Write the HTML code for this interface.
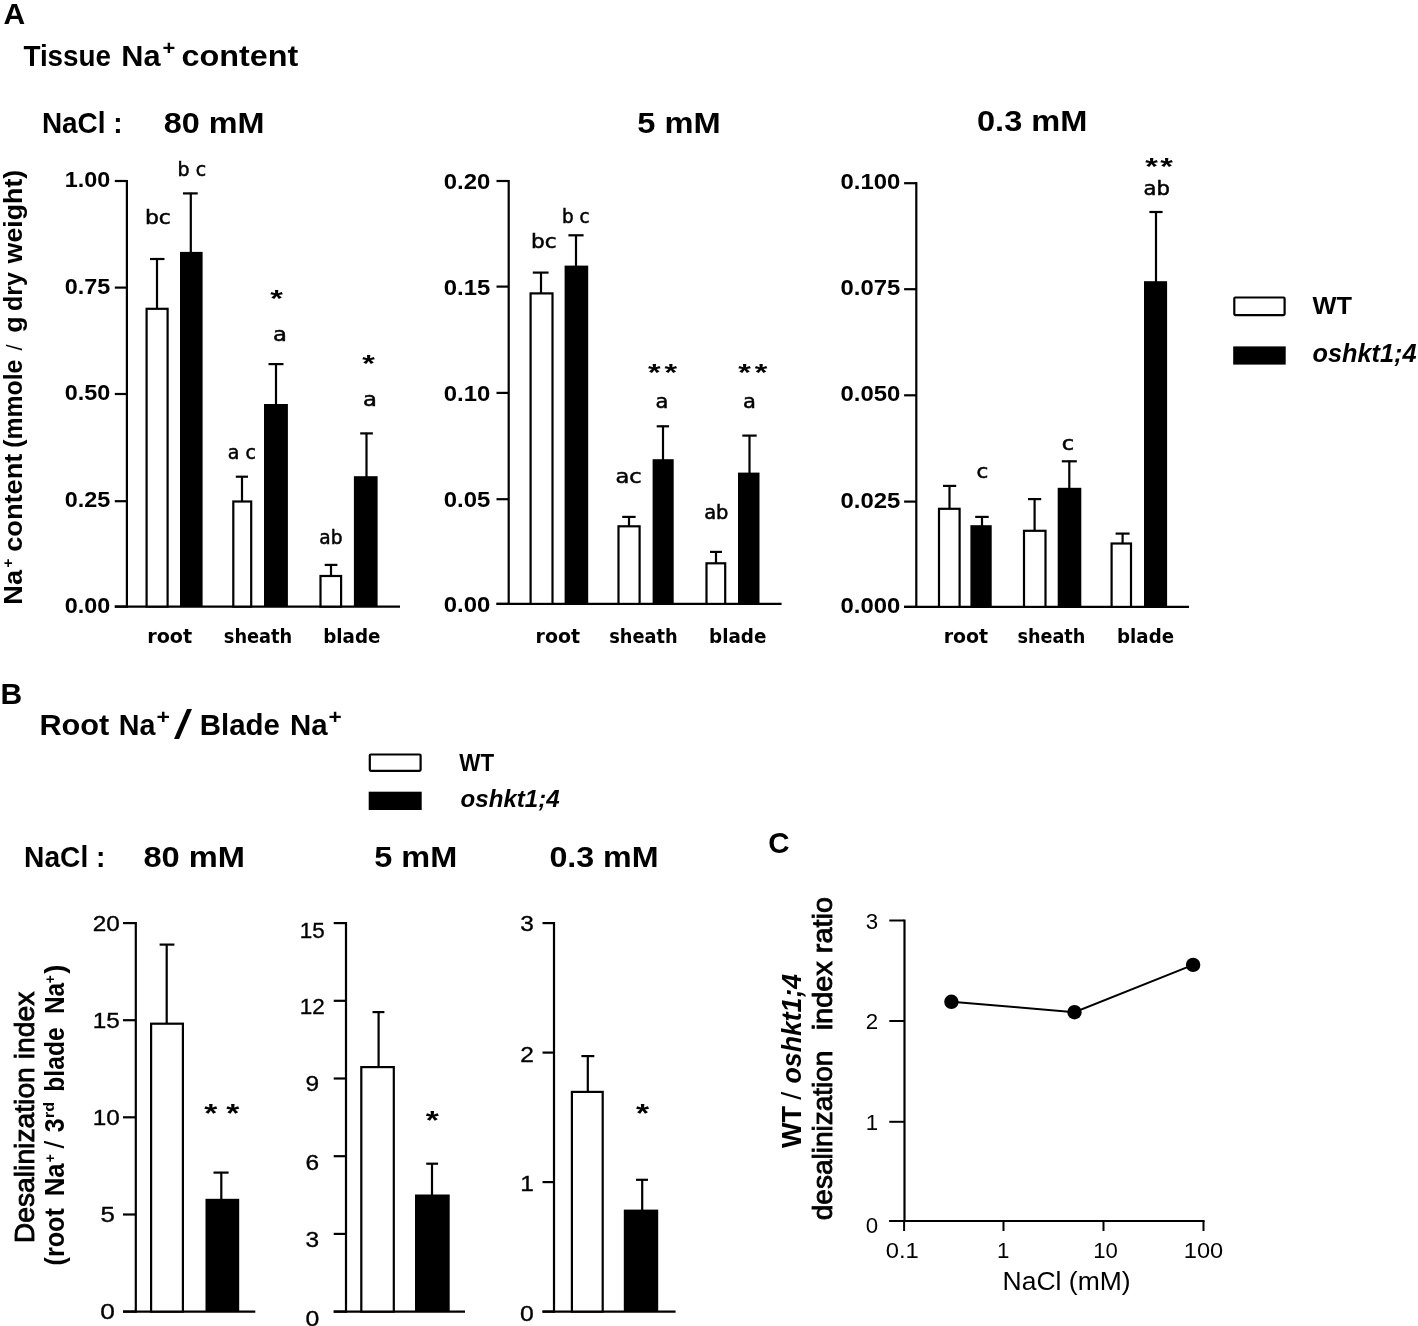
<!DOCTYPE html>
<html lang="en"><head><meta charset="utf-8"><title>Figure</title>
<style>html,body{margin:0;padding:0;background:#fff}svg{display:block;filter:blur(0.45px)}text{fill:#000}</style>
</head><body>
<svg width="1418" height="1326" viewBox="0 0 1418 1326">
<rect width="1418" height="1326" fill="#fff"/>
<text font-family='"Liberation Sans", sans-serif' font-size="30" font-weight="bold" x="3.6" y="24.4" >A</text>
<text font-family='"Liberation Sans", sans-serif' font-size="29.8" font-weight="bold" textLength="87.6" lengthAdjust="spacingAndGlyphs" x="23.4" y="65.5" >Tissue</text>
<text font-family='"Liberation Sans", sans-serif' font-size="29.8" font-weight="bold" textLength="39.2" lengthAdjust="spacingAndGlyphs" x="121.3" y="65.5" >Na</text>
<text font-family='"Liberation Sans", sans-serif' font-size="20" font-weight="bold" textLength="12.8" lengthAdjust="spacingAndGlyphs" x="162.6" y="55.3" >+</text>
<text font-family='"Liberation Sans", sans-serif' font-size="29.8" font-weight="bold" textLength="116.8" lengthAdjust="spacingAndGlyphs" x="181.5" y="65.5" >content</text>
<text font-family='"Liberation Sans", sans-serif' font-size="29.8" font-weight="bold" textLength="80.7" lengthAdjust="spacingAndGlyphs" x="41.9" y="133.3" >NaCl :</text>
<text font-family='"Liberation Sans", sans-serif' font-size="29.8" font-weight="bold" textLength="100.8" lengthAdjust="spacingAndGlyphs" x="163.7" y="133.3" >80 mM</text>
<text font-family='"Liberation Sans", sans-serif' font-size="29.8" font-weight="bold" textLength="83.4" lengthAdjust="spacingAndGlyphs" x="637.3" y="133.0" >5 mM</text>
<text font-family='"Liberation Sans", sans-serif' font-size="29.8" font-weight="bold" textLength="110.4" lengthAdjust="spacingAndGlyphs" x="977.0" y="130.7" >0.3 mM</text>
<text font-family='"Liberation Sans", sans-serif' font-size="26.5" font-weight="bold" textLength="34.8" lengthAdjust="spacingAndGlyphs" transform="translate(22.0,604.7) rotate(-90)" >Na</text>
<text font-family='"Liberation Sans", sans-serif' font-size="15" font-weight="bold" transform="translate(12.6,567.4) rotate(-90)" >+</text>
<text font-family='"Liberation Sans", sans-serif' font-size="26.5" font-weight="bold" textLength="98.1" lengthAdjust="spacingAndGlyphs" transform="translate(22.0,551.8) rotate(-90)" >content</text>
<text font-family='"Liberation Sans", sans-serif' font-size="26.5" font-weight="bold" textLength="88.1" lengthAdjust="spacingAndGlyphs" transform="translate(22.0,447.7) rotate(-90)" >(mmole</text>
<text font-family='"Liberation Sans", sans-serif' font-size="22" transform="translate(22.0,350.6) rotate(-90)" >/</text>
<text font-family='"Liberation Sans", sans-serif' font-size="26.5" font-weight="bold" textLength="16.5" lengthAdjust="spacingAndGlyphs" transform="translate(22.0,332.8) rotate(-90)" >g</text>
<text font-family='"Liberation Sans", sans-serif' font-size="26.5" font-weight="bold" textLength="39.0" lengthAdjust="spacingAndGlyphs" transform="translate(22.0,311.1) rotate(-90)" >dry</text>
<text font-family='"Liberation Sans", sans-serif' font-size="26.5" font-weight="bold" textLength="93.7" lengthAdjust="spacingAndGlyphs" transform="translate(22.0,263.4) rotate(-90)" >weight)</text>
<line x1="126.9" y1="179.9" x2="126.9" y2="607.7" stroke="#000" stroke-width="2.2"/>
<line x1="114.8" y1="606.6" x2="400.0" y2="606.6" stroke="#000" stroke-width="2.2"/>
<line x1="114.8" y1="181.0" x2="126.9" y2="181.0" stroke="#000" stroke-width="2.2"/>
<line x1="114.8" y1="287.6" x2="126.9" y2="287.6" stroke="#000" stroke-width="2.2"/>
<line x1="114.8" y1="394.0" x2="126.9" y2="394.0" stroke="#000" stroke-width="2.2"/>
<line x1="114.8" y1="501.2" x2="126.9" y2="501.2" stroke="#000" stroke-width="2.2"/>
<line x1="114.8" y1="606.6" x2="126.9" y2="606.6" stroke="#000" stroke-width="2.2"/>
<text font-family='"Liberation Sans", sans-serif' font-size="22" font-weight="bold" text-anchor="end" textLength="45.5" lengthAdjust="spacingAndGlyphs" x="110.2" y="187.0" >1.00</text>
<text font-family='"Liberation Sans", sans-serif' font-size="22" font-weight="bold" text-anchor="end" textLength="45.5" lengthAdjust="spacingAndGlyphs" x="110.2" y="293.6" >0.75</text>
<text font-family='"Liberation Sans", sans-serif' font-size="22" font-weight="bold" text-anchor="end" textLength="45.5" lengthAdjust="spacingAndGlyphs" x="110.2" y="400.0" >0.50</text>
<text font-family='"Liberation Sans", sans-serif' font-size="22" font-weight="bold" text-anchor="end" textLength="45.5" lengthAdjust="spacingAndGlyphs" x="110.2" y="507.2" >0.25</text>
<text font-family='"Liberation Sans", sans-serif' font-size="22" font-weight="bold" text-anchor="end" textLength="45.5" lengthAdjust="spacingAndGlyphs" x="110.2" y="612.6" >0.00</text>
<rect x="146.6" y="308.8" width="21.0" height="297.8" fill="#fff" stroke="#000" stroke-width="2.2"/>
<line x1="157.0" y1="258.4" x2="157.0" y2="308.7" stroke="#000" stroke-width="2.2"/>
<line x1="150.0" y1="259.0" x2="164.5" y2="259.0" stroke="#000" stroke-width="2.2"/>
<rect x="180.0" y="251.9" width="22.6" height="354.7" fill="#000"/>
<line x1="190.8" y1="192.8" x2="190.8" y2="253.0" stroke="#000" stroke-width="2.2"/>
<line x1="183.0" y1="193.4" x2="197.7" y2="193.4" stroke="#000" stroke-width="2.2"/>
<rect x="233.3" y="501.5" width="17.9" height="105.1" fill="#fff" stroke="#000" stroke-width="2.2"/>
<line x1="242.0" y1="476.1" x2="242.0" y2="501.4" stroke="#000" stroke-width="2.2"/>
<line x1="235.8" y1="476.7" x2="248.0" y2="476.7" stroke="#000" stroke-width="2.2"/>
<rect x="264.0" y="404.0" width="23.9" height="202.6" fill="#000"/>
<line x1="276.0" y1="363.5" x2="276.0" y2="405.0" stroke="#000" stroke-width="2.2"/>
<line x1="268.5" y1="364.1" x2="283.5" y2="364.1" stroke="#000" stroke-width="2.2"/>
<rect x="320.5" y="576.0" width="20.6" height="30.6" fill="#fff" stroke="#000" stroke-width="2.2"/>
<line x1="331.0" y1="564.3" x2="331.0" y2="575.9" stroke="#000" stroke-width="2.2"/>
<line x1="324.7" y1="564.9" x2="337.4" y2="564.9" stroke="#000" stroke-width="2.2"/>
<rect x="353.9" y="476.2" width="23.7" height="130.4" fill="#000"/>
<line x1="366.5" y1="432.8" x2="366.5" y2="477.0" stroke="#000" stroke-width="2.2"/>
<line x1="360.2" y1="433.4" x2="372.9" y2="433.4" stroke="#000" stroke-width="2.2"/>
<text font-family='"DejaVu Sans", "Liberation Sans", sans-serif' font-size="19.8" font-weight="bold" textLength="45.0" lengthAdjust="spacingAndGlyphs" x="147.2" y="642.9" >root</text>
<text font-family='"DejaVu Sans", "Liberation Sans", sans-serif' font-size="19.8" font-weight="bold" textLength="68.5" lengthAdjust="spacingAndGlyphs" x="223.8" y="642.9" >sheath</text>
<text font-family='"DejaVu Sans", "Liberation Sans", sans-serif' font-size="19.8" font-weight="bold" textLength="57.3" lengthAdjust="spacingAndGlyphs" x="323.2" y="642.9" >blade</text>
<text font-family='"DejaVu Sans", "Liberation Sans", sans-serif' font-size="18.8" textLength="25.9" lengthAdjust="spacingAndGlyphs" stroke="#000" stroke-width="0.5" x="144.9" y="224.4" >bc</text>
<text font-family='"DejaVu Sans", "Liberation Sans", sans-serif' font-size="18.8" textLength="28.5" lengthAdjust="spacingAndGlyphs" stroke="#000" stroke-width="0.5" x="177.6" y="176.0" >b c</text>
<text font-family='"DejaVu Sans", "Liberation Sans", sans-serif' font-size="18.8" textLength="28.1" lengthAdjust="spacingAndGlyphs" stroke="#000" stroke-width="0.5" x="227.8" y="458.5" >a c</text>
<text font-family='"DejaVu Sans", "Liberation Sans", sans-serif' font-size="18.8" textLength="23.2" lengthAdjust="spacingAndGlyphs" stroke="#000" stroke-width="0.5" x="319.3" y="544.0" >ab</text>
<text font-family='"DejaVu Sans", "Liberation Sans", sans-serif' font-size="18.8" textLength="13.9" lengthAdjust="spacingAndGlyphs" stroke="#000" stroke-width="0.5" x="273.1" y="340.5" >a</text>
<text font-family='"DejaVu Sans", "Liberation Sans", sans-serif' font-size="18.8" textLength="13.9" lengthAdjust="spacingAndGlyphs" stroke="#000" stroke-width="0.5" x="363.0" y="406.4" >a</text>
<text font-family='"Liberation Sans", sans-serif' font-size="30" font-weight="bold" text-anchor="middle" transform="translate(276.5,306.8) scale(1.08,0.78)">*</text>
<text font-family='"Liberation Sans", sans-serif' font-size="30" font-weight="bold" text-anchor="middle" transform="translate(368.5,372.3) scale(1.08,0.78)">*</text>
<line x1="508.7" y1="179.9" x2="508.7" y2="605.0" stroke="#000" stroke-width="2.2"/>
<line x1="496.5" y1="603.9" x2="781.6" y2="603.9" stroke="#000" stroke-width="2.2"/>
<line x1="496.5" y1="181.0" x2="508.7" y2="181.0" stroke="#000" stroke-width="2.2"/>
<line x1="496.5" y1="286.6" x2="508.7" y2="286.6" stroke="#000" stroke-width="2.2"/>
<line x1="496.5" y1="392.9" x2="508.7" y2="392.9" stroke="#000" stroke-width="2.2"/>
<line x1="496.5" y1="499.2" x2="508.7" y2="499.2" stroke="#000" stroke-width="2.2"/>
<line x1="496.5" y1="603.9" x2="508.7" y2="603.9" stroke="#000" stroke-width="2.2"/>
<text font-family='"Liberation Sans", sans-serif' font-size="22" font-weight="bold" text-anchor="end" textLength="46.5" lengthAdjust="spacingAndGlyphs" x="490.3" y="189.2" >0.20</text>
<text font-family='"Liberation Sans", sans-serif' font-size="22" font-weight="bold" text-anchor="end" textLength="46.5" lengthAdjust="spacingAndGlyphs" x="490.3" y="294.8" >0.15</text>
<text font-family='"Liberation Sans", sans-serif' font-size="22" font-weight="bold" text-anchor="end" textLength="46.5" lengthAdjust="spacingAndGlyphs" x="490.3" y="401.1" >0.10</text>
<text font-family='"Liberation Sans", sans-serif' font-size="22" font-weight="bold" text-anchor="end" textLength="46.5" lengthAdjust="spacingAndGlyphs" x="490.3" y="507.4" >0.05</text>
<text font-family='"Liberation Sans", sans-serif' font-size="22" font-weight="bold" text-anchor="end" textLength="46.5" lengthAdjust="spacingAndGlyphs" x="490.3" y="612.1" >0.00</text>
<rect x="530.6" y="293.4" width="21.9" height="310.5" fill="#fff" stroke="#000" stroke-width="2.2"/>
<line x1="541.0" y1="272.0" x2="541.0" y2="293.3" stroke="#000" stroke-width="2.2"/>
<line x1="532.8" y1="272.6" x2="548.6" y2="272.6" stroke="#000" stroke-width="2.2"/>
<rect x="564.6" y="265.6" width="23.6" height="338.3" fill="#000"/>
<line x1="576.0" y1="234.7" x2="576.0" y2="267.0" stroke="#000" stroke-width="2.2"/>
<line x1="568.4" y1="235.3" x2="583.6" y2="235.3" stroke="#000" stroke-width="2.2"/>
<rect x="618.5" y="526.3" width="21.1" height="77.6" fill="#fff" stroke="#000" stroke-width="2.2"/>
<line x1="629.0" y1="516.3" x2="629.0" y2="526.2" stroke="#000" stroke-width="2.2"/>
<line x1="622.2" y1="516.9" x2="635.6" y2="516.9" stroke="#000" stroke-width="2.2"/>
<rect x="652.6" y="459.2" width="21.1" height="144.7" fill="#000"/>
<line x1="663.0" y1="425.7" x2="663.0" y2="460.0" stroke="#000" stroke-width="2.2"/>
<line x1="656.7" y1="426.3" x2="669.1" y2="426.3" stroke="#000" stroke-width="2.2"/>
<rect x="706.5" y="563.3" width="18.7" height="40.6" fill="#fff" stroke="#000" stroke-width="2.2"/>
<line x1="716.0" y1="551.3" x2="716.0" y2="563.2" stroke="#000" stroke-width="2.2"/>
<line x1="710.0" y1="551.9" x2="722.0" y2="551.9" stroke="#000" stroke-width="2.2"/>
<rect x="738.0" y="472.6" width="21.5" height="131.3" fill="#000"/>
<line x1="749.5" y1="435.0" x2="749.5" y2="474.0" stroke="#000" stroke-width="2.2"/>
<line x1="742.3" y1="435.6" x2="756.7" y2="435.6" stroke="#000" stroke-width="2.2"/>
<text font-family='"DejaVu Sans", "Liberation Sans", sans-serif' font-size="19.8" font-weight="bold" textLength="44.5" lengthAdjust="spacingAndGlyphs" x="535.6" y="643.3" >root</text>
<text font-family='"DejaVu Sans", "Liberation Sans", sans-serif' font-size="19.8" font-weight="bold" textLength="68.4" lengthAdjust="spacingAndGlyphs" x="609.2" y="643.3" >sheath</text>
<text font-family='"DejaVu Sans", "Liberation Sans", sans-serif' font-size="19.8" font-weight="bold" textLength="57.4" lengthAdjust="spacingAndGlyphs" x="709.0" y="643.3" >blade</text>
<text font-family='"DejaVu Sans", "Liberation Sans", sans-serif' font-size="18.8" textLength="25.6" lengthAdjust="spacingAndGlyphs" stroke="#000" stroke-width="0.5" x="531.1" y="247.6" >bc</text>
<text font-family='"DejaVu Sans", "Liberation Sans", sans-serif' font-size="18.8" textLength="27.6" lengthAdjust="spacingAndGlyphs" stroke="#000" stroke-width="0.5" x="562.1" y="223.0" >b c</text>
<text font-family='"DejaVu Sans", "Liberation Sans", sans-serif' font-size="18.8" textLength="26.3" lengthAdjust="spacingAndGlyphs" stroke="#000" stroke-width="0.5" x="615.4" y="482.5" >ac</text>
<text font-family='"DejaVu Sans", "Liberation Sans", sans-serif' font-size="18.8" textLength="24.3" lengthAdjust="spacingAndGlyphs" stroke="#000" stroke-width="0.5" x="704.2" y="519.3" >ab</text>
<text font-family='"DejaVu Sans", "Liberation Sans", sans-serif' font-size="18.8" textLength="12.9" lengthAdjust="spacingAndGlyphs" stroke="#000" stroke-width="0.5" x="655.5" y="407.5" >a</text>
<text font-family='"DejaVu Sans", "Liberation Sans", sans-serif' font-size="18.8" textLength="12.9" lengthAdjust="spacingAndGlyphs" stroke="#000" stroke-width="0.5" x="743.1" y="407.5" >a</text>
<text font-family='"Liberation Sans", sans-serif' font-size="30" font-weight="bold" text-anchor="middle" transform="translate(654.2,381.2) scale(1.08,0.78)">*</text>
<text font-family='"Liberation Sans", sans-serif' font-size="30" font-weight="bold" text-anchor="middle" transform="translate(670.8,381.2) scale(1.08,0.78)">*</text>
<text font-family='"Liberation Sans", sans-serif' font-size="30" font-weight="bold" text-anchor="middle" transform="translate(744.5,381.2) scale(1.08,0.78)">*</text>
<text font-family='"Liberation Sans", sans-serif' font-size="30" font-weight="bold" text-anchor="middle" transform="translate(761.0,381.2) scale(1.08,0.78)">*</text>
<line x1="916.3" y1="182.1" x2="916.3" y2="608.0" stroke="#000" stroke-width="2.2"/>
<line x1="904.1" y1="606.9" x2="1189.0" y2="606.9" stroke="#000" stroke-width="2.2"/>
<line x1="904.1" y1="183.2" x2="916.3" y2="183.2" stroke="#000" stroke-width="2.2"/>
<line x1="904.1" y1="289.2" x2="916.3" y2="289.2" stroke="#000" stroke-width="2.2"/>
<line x1="904.1" y1="395.3" x2="916.3" y2="395.3" stroke="#000" stroke-width="2.2"/>
<line x1="904.1" y1="501.6" x2="916.3" y2="501.6" stroke="#000" stroke-width="2.2"/>
<line x1="904.1" y1="606.9" x2="916.3" y2="606.9" stroke="#000" stroke-width="2.2"/>
<text font-family='"Liberation Sans", sans-serif' font-size="22" font-weight="bold" text-anchor="end" textLength="59.8" lengthAdjust="spacingAndGlyphs" x="900.3" y="189.2" >0.100</text>
<text font-family='"Liberation Sans", sans-serif' font-size="22" font-weight="bold" text-anchor="end" textLength="59.8" lengthAdjust="spacingAndGlyphs" x="900.3" y="295.2" >0.075</text>
<text font-family='"Liberation Sans", sans-serif' font-size="22" font-weight="bold" text-anchor="end" textLength="59.8" lengthAdjust="spacingAndGlyphs" x="900.3" y="401.3" >0.050</text>
<text font-family='"Liberation Sans", sans-serif' font-size="22" font-weight="bold" text-anchor="end" textLength="59.8" lengthAdjust="spacingAndGlyphs" x="900.3" y="507.6" >0.025</text>
<text font-family='"Liberation Sans", sans-serif' font-size="22" font-weight="bold" text-anchor="end" textLength="59.8" lengthAdjust="spacingAndGlyphs" x="900.3" y="612.9" >0.000</text>
<rect x="939.0" y="508.8" width="20.6" height="98.1" fill="#fff" stroke="#000" stroke-width="2.2"/>
<line x1="949.5" y1="485.3" x2="949.5" y2="508.7" stroke="#000" stroke-width="2.2"/>
<line x1="943.0" y1="485.9" x2="956.2" y2="485.9" stroke="#000" stroke-width="2.2"/>
<rect x="970.4" y="525.2" width="21.3" height="81.7" fill="#000"/>
<line x1="982.0" y1="516.3" x2="982.0" y2="526.0" stroke="#000" stroke-width="2.2"/>
<line x1="975.2" y1="516.9" x2="988.7" y2="516.9" stroke="#000" stroke-width="2.2"/>
<rect x="1024.0" y="530.8" width="21.5" height="76.1" fill="#fff" stroke="#000" stroke-width="2.2"/>
<line x1="1034.6" y1="498.5" x2="1034.6" y2="530.7" stroke="#000" stroke-width="2.2"/>
<line x1="1028.0" y1="499.1" x2="1041.2" y2="499.1" stroke="#000" stroke-width="2.2"/>
<rect x="1057.7" y="487.8" width="23.6" height="119.1" fill="#000"/>
<line x1="1069.3" y1="460.7" x2="1069.3" y2="489.0" stroke="#000" stroke-width="2.2"/>
<line x1="1061.8" y1="461.3" x2="1076.8" y2="461.3" stroke="#000" stroke-width="2.2"/>
<rect x="1111.6" y="543.5" width="19.4" height="63.4" fill="#fff" stroke="#000" stroke-width="2.2"/>
<line x1="1122.6" y1="533.0" x2="1122.6" y2="543.4" stroke="#000" stroke-width="2.2"/>
<line x1="1115.6" y1="533.6" x2="1129.6" y2="533.6" stroke="#000" stroke-width="2.2"/>
<rect x="1144.0" y="281.2" width="23.1" height="325.7" fill="#000"/>
<line x1="1156.0" y1="211.4" x2="1156.0" y2="282.0" stroke="#000" stroke-width="2.2"/>
<line x1="1149.4" y1="212.0" x2="1162.6" y2="212.0" stroke="#000" stroke-width="2.2"/>
<text font-family='"DejaVu Sans", "Liberation Sans", sans-serif' font-size="19.8" font-weight="bold" textLength="44.5" lengthAdjust="spacingAndGlyphs" x="943.7" y="643.3" >root</text>
<text font-family='"DejaVu Sans", "Liberation Sans", sans-serif' font-size="19.8" font-weight="bold" textLength="68.0" lengthAdjust="spacingAndGlyphs" x="1017.4" y="643.3" >sheath</text>
<text font-family='"DejaVu Sans", "Liberation Sans", sans-serif' font-size="19.8" font-weight="bold" textLength="56.9" lengthAdjust="spacingAndGlyphs" x="1117.1" y="643.3" >blade</text>
<text font-family='"DejaVu Sans", "Liberation Sans", sans-serif' font-size="18.8" textLength="11.8" lengthAdjust="spacingAndGlyphs" stroke="#000" stroke-width="0.5" x="976.6" y="478.2" >c</text>
<text font-family='"DejaVu Sans", "Liberation Sans", sans-serif' font-size="18.8" textLength="12.4" lengthAdjust="spacingAndGlyphs" stroke="#000" stroke-width="0.5" x="1061.8" y="449.5" >c</text>
<text font-family='"DejaVu Sans", "Liberation Sans", sans-serif' font-size="18.8" textLength="26.4" lengthAdjust="spacingAndGlyphs" stroke="#000" stroke-width="0.5" x="1143.6" y="194.6" >ab</text>
<text font-family='"Liberation Sans", sans-serif' font-size="30" font-weight="bold" text-anchor="middle" transform="translate(1151.5,175.0) scale(1.08,0.78)">*</text>
<text font-family='"Liberation Sans", sans-serif' font-size="30" font-weight="bold" text-anchor="middle" transform="translate(1166.5,175.0) scale(1.08,0.78)">*</text>
<rect x="1234.3" y="297.5" width="50.3" height="17.6" fill="#fff" stroke="#000" stroke-width="2.2" rx="1"/>
<rect x="1233.2" y="346.4" width="52.5" height="18.2" fill="#000"/>
<text font-family='"Liberation Sans", sans-serif' font-size="24" font-weight="bold" textLength="39.4" lengthAdjust="spacingAndGlyphs" x="1312.6" y="313.7" >WT</text>
<text font-family='"Liberation Sans", sans-serif' font-size="25" font-weight="bold" font-style="italic" textLength="104.0" lengthAdjust="spacingAndGlyphs" x="1312.6" y="361.9" >oshkt1;4</text>
<text font-family='"Liberation Sans", sans-serif' font-size="30" font-weight="bold" x="0.4" y="704.2" >B</text>
<text font-family='"Liberation Sans", sans-serif' font-size="30.3" font-weight="bold" textLength="69.8" lengthAdjust="spacingAndGlyphs" x="39.4" y="734.7" >Root</text>
<text font-family='"Liberation Sans", sans-serif' font-size="30.3" font-weight="bold" textLength="36.6" lengthAdjust="spacingAndGlyphs" x="118.8" y="734.7" >Na</text>
<text font-family='"Liberation Sans", sans-serif' font-size="20" font-weight="bold" textLength="13.5" lengthAdjust="spacingAndGlyphs" x="156.4" y="724.2" >+</text>
<text font-family='"Liberation Sans", sans-serif' font-size="41" textLength="18.0" lengthAdjust="spacingAndGlyphs" x="174.0" y="738.5" >/</text>
<text font-family='"Liberation Sans", sans-serif' font-size="30.3" font-weight="bold" textLength="80.2" lengthAdjust="spacingAndGlyphs" x="199.8" y="734.7" >Blade</text>
<text font-family='"Liberation Sans", sans-serif' font-size="30.3" font-weight="bold" textLength="37.6" lengthAdjust="spacingAndGlyphs" x="289.9" y="734.7" >Na</text>
<text font-family='"Liberation Sans", sans-serif' font-size="20" font-weight="bold" textLength="13.2" lengthAdjust="spacingAndGlyphs" x="328.4" y="724.2" >+</text>
<text font-family='"Liberation Sans", sans-serif' font-size="30.3" font-weight="bold" textLength="81.3" lengthAdjust="spacingAndGlyphs" x="24.1" y="866.7" >NaCl :</text>
<text font-family='"Liberation Sans", sans-serif' font-size="30.3" font-weight="bold" textLength="101.6" lengthAdjust="spacingAndGlyphs" x="143.4" y="866.7" >80 mM</text>
<text font-family='"Liberation Sans", sans-serif' font-size="30.3" font-weight="bold" textLength="83.0" lengthAdjust="spacingAndGlyphs" x="374.3" y="866.6" >5 mM</text>
<text font-family='"Liberation Sans", sans-serif' font-size="30.3" font-weight="bold" textLength="109.2" lengthAdjust="spacingAndGlyphs" x="549.4" y="866.6" >0.3 mM</text>
<rect x="369.8" y="754.5" width="50.8" height="16.3" fill="#fff" stroke="#000" stroke-width="2.2" rx="1"/>
<rect x="368.7" y="791.7" width="53.0" height="18.3" fill="#000"/>
<text font-family='"Liberation Sans", sans-serif' font-size="23" font-weight="bold" textLength="34.8" lengthAdjust="spacingAndGlyphs" x="459.3" y="770.6" >WT</text>
<text font-family='"Liberation Sans", sans-serif' font-size="23" font-weight="bold" font-style="italic" textLength="99.0" lengthAdjust="spacingAndGlyphs" x="460.6" y="806.9" >oshkt1;4</text>
<text font-family='"Liberation Sans", sans-serif' font-size="28.5" textLength="251.5" lengthAdjust="spacingAndGlyphs" stroke="#000" stroke-width="0.85" transform="translate(33.7,1243.2) rotate(-90)" >Desalinization index</text>
<text font-family='"Liberation Sans", sans-serif' font-size="28" font-weight="bold" textLength="57.3" lengthAdjust="spacingAndGlyphs" transform="translate(64.4,1265.5) rotate(-90)" >(root</text>
<text font-family='"Liberation Sans", sans-serif' font-size="28" font-weight="bold" textLength="33.0" lengthAdjust="spacingAndGlyphs" transform="translate(64.4,1196.3) rotate(-90)" >Na</text>
<text font-family='"Liberation Sans", sans-serif' font-size="14" font-weight="bold" transform="translate(55.3,1162.3) rotate(-90)" >+</text>
<text font-family='"Liberation Sans", sans-serif' font-size="28" transform="translate(64.4,1148.6) rotate(-90)" >/</text>
<text font-family='"Liberation Sans", sans-serif' font-size="28" font-weight="bold" textLength="13.8" lengthAdjust="spacingAndGlyphs" transform="translate(64.4,1132.2) rotate(-90)" >3</text>
<text font-family='"Liberation Sans", sans-serif' font-size="15.5" font-weight="bold" textLength="16.1" lengthAdjust="spacingAndGlyphs" transform="translate(54.4,1118.0) rotate(-90)" >rd</text>
<text font-family='"Liberation Sans", sans-serif' font-size="28" font-weight="bold" textLength="64.4" lengthAdjust="spacingAndGlyphs" transform="translate(64.4,1091.7) rotate(-90)" >blade</text>
<text font-family='"Liberation Sans", sans-serif' font-size="28" font-weight="bold" textLength="31.1" lengthAdjust="spacingAndGlyphs" transform="translate(64.4,1014.1) rotate(-90)" >Na</text>
<text font-family='"Liberation Sans", sans-serif' font-size="14" font-weight="bold" transform="translate(55.3,983.2) rotate(-90)" >+</text>
<text font-family='"Liberation Sans", sans-serif' font-size="28" font-weight="bold" textLength="9.2" lengthAdjust="spacingAndGlyphs" transform="translate(64.4,973.7) rotate(-90)" >)</text>
<line x1="135.8" y1="922.0" x2="135.8" y2="1312.7" stroke="#000" stroke-width="2.2"/>
<line x1="123.0" y1="1311.6" x2="255.3" y2="1311.6" stroke="#000" stroke-width="2.2"/>
<line x1="123.0" y1="923.1" x2="135.8" y2="923.1" stroke="#000" stroke-width="2.2"/>
<line x1="123.0" y1="1020.2" x2="135.8" y2="1020.2" stroke="#000" stroke-width="2.2"/>
<line x1="123.0" y1="1117.3" x2="135.8" y2="1117.3" stroke="#000" stroke-width="2.2"/>
<line x1="123.0" y1="1214.5" x2="135.8" y2="1214.5" stroke="#000" stroke-width="2.2"/>
<line x1="123.0" y1="1311.6" x2="135.8" y2="1311.6" stroke="#000" stroke-width="2.2"/>
<text font-family='"Liberation Sans", sans-serif' font-size="22.5" text-anchor="end" textLength="27.0" lengthAdjust="spacingAndGlyphs" stroke="#000" stroke-width="0.35" x="119.8" y="930.9" >20</text>
<text font-family='"Liberation Sans", sans-serif' font-size="22.5" text-anchor="end" textLength="27.0" lengthAdjust="spacingAndGlyphs" stroke="#000" stroke-width="0.35" x="119.8" y="1028.0" >15</text>
<text font-family='"Liberation Sans", sans-serif' font-size="22.5" text-anchor="end" textLength="27.0" lengthAdjust="spacingAndGlyphs" stroke="#000" stroke-width="0.35" x="119.8" y="1125.1" >10</text>
<text font-family='"Liberation Sans", sans-serif' font-size="22.5" text-anchor="end" textLength="14.4" lengthAdjust="spacingAndGlyphs" stroke="#000" stroke-width="0.35" x="114.8" y="1222.3" >5</text>
<text font-family='"Liberation Sans", sans-serif' font-size="22.5" text-anchor="end" textLength="14.6" lengthAdjust="spacingAndGlyphs" stroke="#000" stroke-width="0.35" x="114.8" y="1319.4" >0</text>
<rect x="151.1" y="1023.7" width="31.8" height="287.9" fill="#fff" stroke="#000" stroke-width="2.2"/>
<line x1="166.7" y1="944.0" x2="166.7" y2="1023.6" stroke="#000" stroke-width="2.2"/>
<line x1="159.6" y1="944.6" x2="174.4" y2="944.6" stroke="#000" stroke-width="2.2"/>
<rect x="205.5" y="1198.8" width="33.7" height="112.8" fill="#000"/>
<line x1="221.3" y1="1172.0" x2="221.3" y2="1200.0" stroke="#000" stroke-width="2.2"/>
<line x1="213.5" y1="1172.6" x2="228.6" y2="1172.6" stroke="#000" stroke-width="2.2"/>
<text font-family='"Liberation Sans", sans-serif' font-size="30" font-weight="bold" text-anchor="middle" transform="translate(210.7,1121.5) scale(1.12,0.84)">*</text>
<text font-family='"Liberation Sans", sans-serif' font-size="30" font-weight="bold" text-anchor="middle" transform="translate(232.7,1121.5) scale(1.12,0.84)">*</text>
<line x1="346.0" y1="922.0" x2="346.0" y2="1312.7" stroke="#000" stroke-width="2.2"/>
<line x1="333.7" y1="1311.6" x2="465.0" y2="1311.6" stroke="#000" stroke-width="2.2"/>
<line x1="333.7" y1="923.1" x2="346.0" y2="923.1" stroke="#000" stroke-width="2.2"/>
<line x1="333.7" y1="1000.8" x2="346.0" y2="1000.8" stroke="#000" stroke-width="2.2"/>
<line x1="333.7" y1="1078.5" x2="346.0" y2="1078.5" stroke="#000" stroke-width="2.2"/>
<line x1="333.7" y1="1156.2" x2="346.0" y2="1156.2" stroke="#000" stroke-width="2.2"/>
<line x1="333.7" y1="1233.9" x2="346.0" y2="1233.9" stroke="#000" stroke-width="2.2"/>
<line x1="333.7" y1="1311.6" x2="346.0" y2="1311.6" stroke="#000" stroke-width="2.2"/>
<text font-family='"Liberation Sans", sans-serif' font-size="22.5" text-anchor="end" textLength="25.0" lengthAdjust="spacingAndGlyphs" stroke="#000" stroke-width="0.35" x="324.8" y="937.7" >15</text>
<text font-family='"Liberation Sans", sans-serif' font-size="22.5" text-anchor="end" textLength="25.0" lengthAdjust="spacingAndGlyphs" stroke="#000" stroke-width="0.35" x="324.8" y="1013.6" >12</text>
<text font-family='"Liberation Sans", sans-serif' font-size="22.5" text-anchor="end" textLength="13.6" lengthAdjust="spacingAndGlyphs" stroke="#000" stroke-width="0.35" x="319.2" y="1091.3" >9</text>
<text font-family='"Liberation Sans", sans-serif' font-size="22.5" text-anchor="end" textLength="13.6" lengthAdjust="spacingAndGlyphs" stroke="#000" stroke-width="0.35" x="319.2" y="1170.4" >6</text>
<text font-family='"Liberation Sans", sans-serif' font-size="22.5" text-anchor="end" textLength="13.6" lengthAdjust="spacingAndGlyphs" stroke="#000" stroke-width="0.35" x="319.2" y="1246.7" >3</text>
<text font-family='"Liberation Sans", sans-serif' font-size="22.5" text-anchor="end" textLength="13.8" lengthAdjust="spacingAndGlyphs" stroke="#000" stroke-width="0.35" x="319.2" y="1326.4" >0</text>
<rect x="361.3" y="1067.1" width="32.5" height="244.5" fill="#fff" stroke="#000" stroke-width="2.2"/>
<line x1="378.6" y1="1011.5" x2="378.6" y2="1067.7" stroke="#000" stroke-width="2.2"/>
<line x1="372.5" y1="1012.1" x2="384.4" y2="1012.1" stroke="#000" stroke-width="2.2"/>
<rect x="415.0" y="1194.5" width="34.7" height="117.1" fill="#000"/>
<line x1="432.0" y1="1163.1" x2="432.0" y2="1196.0" stroke="#000" stroke-width="2.2"/>
<line x1="426.2" y1="1163.7" x2="438.1" y2="1163.7" stroke="#000" stroke-width="2.2"/>
<text font-family='"Liberation Sans", sans-serif' font-size="30" font-weight="bold" text-anchor="middle" transform="translate(432.2,1128.7) scale(1.12,0.84)">*</text>
<line x1="554.0" y1="922.0" x2="554.0" y2="1312.7" stroke="#000" stroke-width="2.2"/>
<line x1="542.5" y1="1311.6" x2="675.6" y2="1311.6" stroke="#000" stroke-width="2.2"/>
<line x1="542.5" y1="923.1" x2="554.0" y2="923.1" stroke="#000" stroke-width="2.2"/>
<line x1="542.5" y1="1052.6" x2="554.0" y2="1052.6" stroke="#000" stroke-width="2.2"/>
<line x1="542.5" y1="1182.1" x2="554.0" y2="1182.1" stroke="#000" stroke-width="2.2"/>
<line x1="542.5" y1="1311.6" x2="554.0" y2="1311.6" stroke="#000" stroke-width="2.2"/>
<text font-family='"Liberation Sans", sans-serif' font-size="22.5" text-anchor="end" textLength="13.6" lengthAdjust="spacingAndGlyphs" stroke="#000" stroke-width="0.35" x="533.9" y="931.3" >3</text>
<text font-family='"Liberation Sans", sans-serif' font-size="22.5" text-anchor="end" textLength="13.6" lengthAdjust="spacingAndGlyphs" stroke="#000" stroke-width="0.35" x="533.9" y="1061.9" >2</text>
<text font-family='"Liberation Sans", sans-serif' font-size="22.5" text-anchor="end" textLength="13.6" lengthAdjust="spacingAndGlyphs" stroke="#000" stroke-width="0.35" x="533.9" y="1190.9" >1</text>
<text font-family='"Liberation Sans", sans-serif' font-size="22.5" text-anchor="end" textLength="13.8" lengthAdjust="spacingAndGlyphs" stroke="#000" stroke-width="0.35" x="533.9" y="1321.0" >0</text>
<rect x="571.9" y="1091.9" width="30.8" height="219.7" fill="#fff" stroke="#000" stroke-width="2.2"/>
<line x1="587.8" y1="1055.5" x2="587.8" y2="1091.8" stroke="#000" stroke-width="2.2"/>
<line x1="581.4" y1="1056.1" x2="594.3" y2="1056.1" stroke="#000" stroke-width="2.2"/>
<rect x="623.8" y="1209.6" width="34.4" height="102.0" fill="#000"/>
<line x1="642.2" y1="1179.2" x2="642.2" y2="1211.0" stroke="#000" stroke-width="2.2"/>
<line x1="636.0" y1="1179.8" x2="648.0" y2="1179.8" stroke="#000" stroke-width="2.2"/>
<text font-family='"Liberation Sans", sans-serif' font-size="30" font-weight="bold" text-anchor="middle" transform="translate(642.6,1122.2) scale(1.12,0.84)">*</text>
<text font-family='"Liberation Sans", sans-serif' font-size="29.5" font-weight="bold" x="768.2" y="853.2" >C</text>
<line x1="904.5" y1="919.4" x2="904.5" y2="1222.0" stroke="#000" stroke-width="2.2"/>
<line x1="889.3" y1="1221.0" x2="1204.6" y2="1221.0" stroke="#000" stroke-width="2"/>
<line x1="889.3" y1="920.5" x2="904.1" y2="920.5" stroke="#000" stroke-width="2"/>
<line x1="889.3" y1="1021.0" x2="904.1" y2="1021.0" stroke="#000" stroke-width="2"/>
<line x1="889.3" y1="1121.8" x2="904.1" y2="1121.8" stroke="#000" stroke-width="2"/>
<line x1="889.3" y1="1221.0" x2="904.1" y2="1221.0" stroke="#000" stroke-width="2"/>
<line x1="904.1" y1="1221.0" x2="904.1" y2="1231.0" stroke="#000" stroke-width="2"/>
<line x1="1003.5" y1="1221.0" x2="1003.5" y2="1231.0" stroke="#000" stroke-width="2"/>
<line x1="1103.5" y1="1221.0" x2="1103.5" y2="1231.0" stroke="#000" stroke-width="2"/>
<line x1="1203.5" y1="1221.0" x2="1203.5" y2="1231.0" stroke="#000" stroke-width="2"/>
<text font-family='"Liberation Sans", sans-serif' font-size="21.5" text-anchor="end" textLength="12.4" lengthAdjust="spacingAndGlyphs" x="878.2" y="928.5" >3</text>
<text font-family='"Liberation Sans", sans-serif' font-size="21.5" text-anchor="end" textLength="12.4" lengthAdjust="spacingAndGlyphs" x="878.2" y="1029.0" >2</text>
<text font-family='"Liberation Sans", sans-serif' font-size="21.5" text-anchor="end" textLength="12.4" lengthAdjust="spacingAndGlyphs" x="878.2" y="1129.8" >1</text>
<text font-family='"Liberation Sans", sans-serif' font-size="21.5" text-anchor="end" textLength="12.4" lengthAdjust="spacingAndGlyphs" x="878.2" y="1232.5" >0</text>
<text font-family='"Liberation Sans", sans-serif' font-size="21.5" text-anchor="middle" textLength="33.0" lengthAdjust="spacingAndGlyphs" x="902.3" y="1258.0" >0.1</text>
<text font-family='"Liberation Sans", sans-serif' font-size="21.5" text-anchor="middle" textLength="12.4" lengthAdjust="spacingAndGlyphs" x="1003.3" y="1258.0" >1</text>
<text font-family='"Liberation Sans", sans-serif' font-size="21.5" text-anchor="middle" textLength="24.6" lengthAdjust="spacingAndGlyphs" x="1105.5" y="1258.0" >10</text>
<text font-family='"Liberation Sans", sans-serif' font-size="21.5" text-anchor="middle" textLength="39.4" lengthAdjust="spacingAndGlyphs" x="1203.5" y="1258.0" >100</text>
<text font-family='"Liberation Sans", sans-serif' font-size="26.7" textLength="128.0" lengthAdjust="spacingAndGlyphs" x="1002.6" y="1290.0" >NaCl (mM)</text>
<polyline points="951.4,1001.8 1074.5,1012.2 1193.1,964.9" fill="none" stroke="#000" stroke-width="2"/>
<circle cx="951.4" cy="1001.8" r="7.2" fill="#000"/>
<circle cx="1074.5" cy="1012.2" r="7.2" fill="#000"/>
<circle cx="1193.1" cy="964.9" r="7.2" fill="#000"/>
<text font-family='"Liberation Sans", sans-serif' font-size="28.5" font-weight="bold" textLength="42.0" lengthAdjust="spacingAndGlyphs" transform="translate(801.0,1148.0) rotate(-90)" >WT</text>
<text font-family='"Liberation Sans", sans-serif' font-size="28.5" transform="translate(801.0,1099.8) rotate(-90)" >/</text>
<text font-family='"Liberation Sans", sans-serif' font-size="28.5" font-weight="bold" font-style="italic" textLength="109.5" lengthAdjust="spacingAndGlyphs" transform="translate(801.0,1083.4) rotate(-90)" >oshkt1;4</text>
<text font-family='"Liberation Sans", sans-serif' font-size="28.5" textLength="169.6" lengthAdjust="spacingAndGlyphs" stroke="#000" stroke-width="0.85" transform="translate(832.0,1220.2) rotate(-90)" >desalinization</text>
<text font-family='"Liberation Sans", sans-serif' font-size="28.5" textLength="133.4" lengthAdjust="spacingAndGlyphs" stroke="#000" stroke-width="0.85" transform="translate(832.0,1030.3) rotate(-90)" >index ratio</text>
</svg>
</body></html>
